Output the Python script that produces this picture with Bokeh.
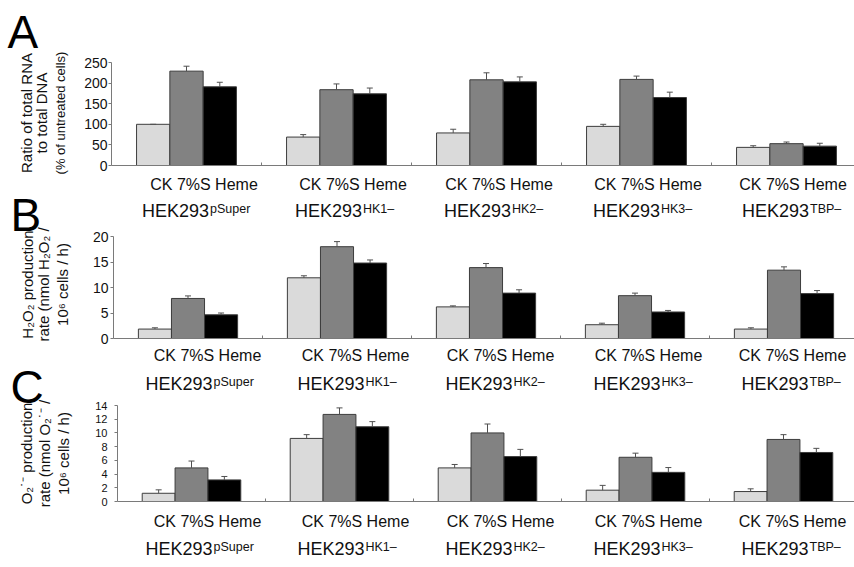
import math
from bokeh.plotting import figure
from bokeh.models import (Range1d, FixedTicker, Label, Whisker, TeeHead,
                          ColumnDataSource, LinearAxis)
from bokeh.layouts import column
from bokeh.embed import file_html
from bokeh.resources import INLINE
from bokeh.transform import dodge

# ---------------- data ----------------
groups = ["pSuper", "HK1–", "HK2–", "HK3–", "TBP–"]
treatments = ["CK", "7%S", "Heme"]
treatment_row = "CK 7%S Heme"
cell_line = "HEK293"

# Panel A: ratio of total RNA to total DNA (% of untreated cells)
a_ck = [100, 69, 79, 95, 44]
a_ck_err = [0, 6, 9, 5, 4]
a_7s = [229, 184, 208, 209, 53]
a_7s_err = [12, 14, 17, 8, 4]
a_heme = [191, 174, 203, 165, 47]
a_heme_err = [11, 14, 12, 13, 7]
a_ticks = [0, 50, 100, 150, 200, 250]

# Panel B: H2O2 production rate
b_ck = [1.85, 11.9, 6.2, 2.7, 1.85]
b_ck_err = [0.25, 0.4, 0.2, 0.3, 0.25]
b_7s = [7.85, 18.0, 13.9, 8.4, 13.4]
b_7s_err = [0.5, 1.0, 0.8, 0.5, 0.65]
b_heme = [4.65, 14.8, 8.9, 5.2, 8.8]
b_heme_err = [0.35, 0.6, 0.65, 0.3, 0.6]
b_ticks = [0, 5, 10, 15, 20]

# Panel C: O2- production rate
c_ck = [1.2, 9.2, 4.9, 1.65, 1.45]
c_ck_err = [0.5, 0.55, 0.5, 0.7, 0.4]
c_7s = [4.9, 12.7, 10.0, 6.45, 9.05]
c_7s_err = [1.0, 0.95, 1.3, 0.6, 0.7]
c_heme = [3.15, 10.9, 6.55, 4.25, 7.15]
c_heme_err = [0.5, 0.75, 1.05, 0.7, 0.6]
c_ticks = [0, 2, 4, 6, 8, 10, 12, 14]

a_title = ["Ratio of total RNA", "to total DNA", "(% of untreated cells)"]
b_title = ["H₂O₂ production", "rate (nmol H₂O₂ /", "10⁶ cells / h)"]
c_title = ["O₂˙⁻ production", "rate (nmol O₂˙⁻ /", "10⁶ cells / h)"]

# ---------------- style / layout ----------------
FONT = "Liberation Sans"
BAR_COLORS = ["#dadada", "#828282", "#000000"]
BAR_OFFSETS = [-0.222, 0.0, 0.222]
BAR_WIDTH = 0.222
AXIS_COLOR = "#7a7a7a"
ERR_COLOR = "#505050"
TEXT_COLOR = "#111111"
W = 854
BASE_FIX = 0.36          # empirical shift for the alphabetic baseline of labels
ROW_SHIFT = [16, 16, 13, 13, 9]   # pixel shift of the treatment row per group


def panel(vals, errs, ticks, top_px, bottom_px, frame_top, base, left, gw,
          tick_fs, standoff):
    """Whole canvas is the frame; axes are pinned at data 0 (fixed_location)."""
    ymax = ticks[-1]
    upp = ymax / (base - frame_top)          # data units per pixel
    y0 = -(bottom_px - base) * upp
    y1 = ymax + (frame_top - top_px) * upp
    x0 = (0 - left) / gw
    x1 = (W - left) / gw
    p = figure(width=W, height=bottom_px - top_px, output_backend="svg",
               toolbar_location=None, x_range=Range1d(x0, x1), y_range=Range1d(y0, y1),
               x_axis_location=None, y_axis_location=None,
               min_border_left=0, min_border_right=0, min_border_top=0, min_border_bottom=0)
    p.outline_line_color = None
    p.xgrid.visible = False
    p.ygrid.visible = False
    p.background_fill_color = "white"
    p.border_fill_color = "white"

    pos = [i + 0.5 for i in range(len(groups))]
    data = dict(xc=pos)
    for k, (v, e) in enumerate(zip(vals, errs)):
        data[f"v{k}"] = v
        data[f"hi{k}"] = [a + b for a, b in zip(v, e)]
    src = ColumnDataSource(data)

    for k in range(3):
        p.vbar(x=dodge("xc", BAR_OFFSETS[k], range=p.x_range), top=f"v{k}",
               width=BAR_WIDTH, source=src,
               fill_color=BAR_COLORS[k], line_color="#3c3c3c", line_width=1)
        p.add_layout(Whisker(base=dodge("xc", BAR_OFFSETS[k], range=p.x_range),
                             lower=f"v{k}", upper=f"hi{k}", source=src,
                             line_color=ERR_COLOR, line_width=1,
                             upper_head=TeeHead(size=6, line_color=ERR_COLOR, line_width=1),
                             lower_head=None, level="overlay"))

    ya = LinearAxis(fixed_location=0, bounds=(0, ymax), ticker=FixedTicker(ticks=ticks))
    ya.minor_tick_line_color = None
    ya.major_tick_in = 0
    ya.major_tick_out = 3
    ya.major_label_standoff = standoff
    ya.axis_line_color = AXIS_COLOR
    ya.major_tick_line_color = AXIS_COLOR
    ya.major_label_text_font = FONT
    ya.major_label_text_font_size = f"{tick_fs}px"
    ya.major_label_text_color = TEXT_COLOR
    p.add_layout(ya, "left")

    sep = [1, 2, 3, 4]
    xa = LinearAxis(fixed_location=0, bounds=(0, x1), ticker=FixedTicker(ticks=sep))
    xa.major_label_overrides = {t: "" for t in sep}
    xa.major_label_text_font_size = "6px"
    xa.major_label_standoff = 0
    xa.minor_tick_line_color = None
    xa.major_tick_in = 3
    xa.major_tick_out = 0
    xa.axis_line_color = AXIS_COLOR
    xa.major_tick_line_color = AXIS_COLOR
    p.add_layout(xa, "below")
    return p, pos


def text_label(x, y, dx, dy, text, fs, align, **kw):
    return Label(x=x, y=y, x_offset=dx, y_offset=dy + BASE_FIX * fs, text=text,
                 text_font=FONT, text_font_size=f"{fs}px", text_align=align,
                 text_baseline="alphabetic", text_color=kw.get("color", TEXT_COLOR))


def add_letter(p, text, ymax, dx, dy):
    p.add_layout(text_label(0, ymax, dx, dy, text, 46, "left", color="black"))


def add_title(p, lines, sizes, xoffs, ymid, dy):
    for t, s, xo in zip(lines, sizes, xoffs):
        p.add_layout(Label(x=0, y=ymid, x_offset=xo, y_offset=dy, text=t,
                           angle=math.pi / 2, text_font=FONT,
                           text_font_size=f"{s}px", text_align="center",
                           text_baseline="middle", text_color=TEXT_COLOR))


def add_treat_row(p, pos, y, dy):
    for x, sh in zip(pos, ROW_SHIFT):
        p.add_layout(text_label(x, y, sh, dy, treatment_row, 16, "center"))


def add_cell_row(p, pos, y, dy):
    for x, g in zip(pos, groups):
        anchor = 21 if g == "pSuper" else 25
        p.add_layout(text_label(x, y, anchor, dy, cell_line, 18, "right"))
        p.add_layout(text_label(x, y, anchor + 1, dy + 4.5, g, 12.5, "left"))


# Panel A (page y 0..175): frame 62..165
LA = 111
pA, posA = panel([a_ck, a_7s, a_heme], [a_ck_err, a_7s_err, a_heme_err], a_ticks,
                 top_px=0, bottom_px=175, frame_top=62, base=165, left=LA, gw=150,
                 tick_fs=14, standoff=1)
add_letter(pA, "A", a_ticks[-1], 7 - LA, 14)
add_title(pA, a_title, [15, 15, 13], [26 - LA, 41 - LA, 60 - LA], a_ticks[-1] / 2, 1)

# Panel B (page y 175..346): frame 236..338; also carries panel A's row labels
LB = 113
pB, posB = panel([b_ck, b_7s, b_heme], [b_ck_err, b_7s_err, b_heme_err], b_ticks,
                 top_px=175, bottom_px=346, frame_top=236, base=338, left=LB, gw=149,
                 tick_fs=14, standoff=2)
add_treat_row(pB, posB, b_ticks[-1], 46)         # treatments under panel A
add_cell_row(pB, posB, b_ticks[-1], 19)          # cell lines under panel A
add_letter(pB, "B", b_ticks[-1], 10 - LB, 5)
add_title(pB, b_title, [15, 15, 15], [27 - LB, 43 - LB, 62 - LB], b_ticks[-1] / 2, 3)

# Panel C (page y 346..567): frame 405..501; also carries panel B's row labels
LC = 117
pC, posC = panel([c_ck, c_7s, c_heme], [c_ck_err, c_7s_err, c_heme_err], c_ticks,
                 top_px=346, bottom_px=567, frame_top=405, base=501, left=LC, gw=148,
                 tick_fs=11, standoff=7)
add_treat_row(pC, posC, c_ticks[-1], 44)         # treatments under panel B
add_cell_row(pC, posC, c_ticks[-1], 15)          # cell lines under panel B
add_letter(pC, "C", c_ticks[-1], 10 - LC, 2)
add_title(pC, c_title, [15, 15, 15], [26 - LC, 44 - LC, 63 - LC], c_ticks[-1] / 2, 0)
add_treat_row(pC, posC, 0, -26)
add_cell_row(pC, posC, 0, -54)                   # cell lines under panel C

layout = column(pA, pB, pC, spacing=0)
open("out.html", "w").write(file_html(layout, INLINE))
